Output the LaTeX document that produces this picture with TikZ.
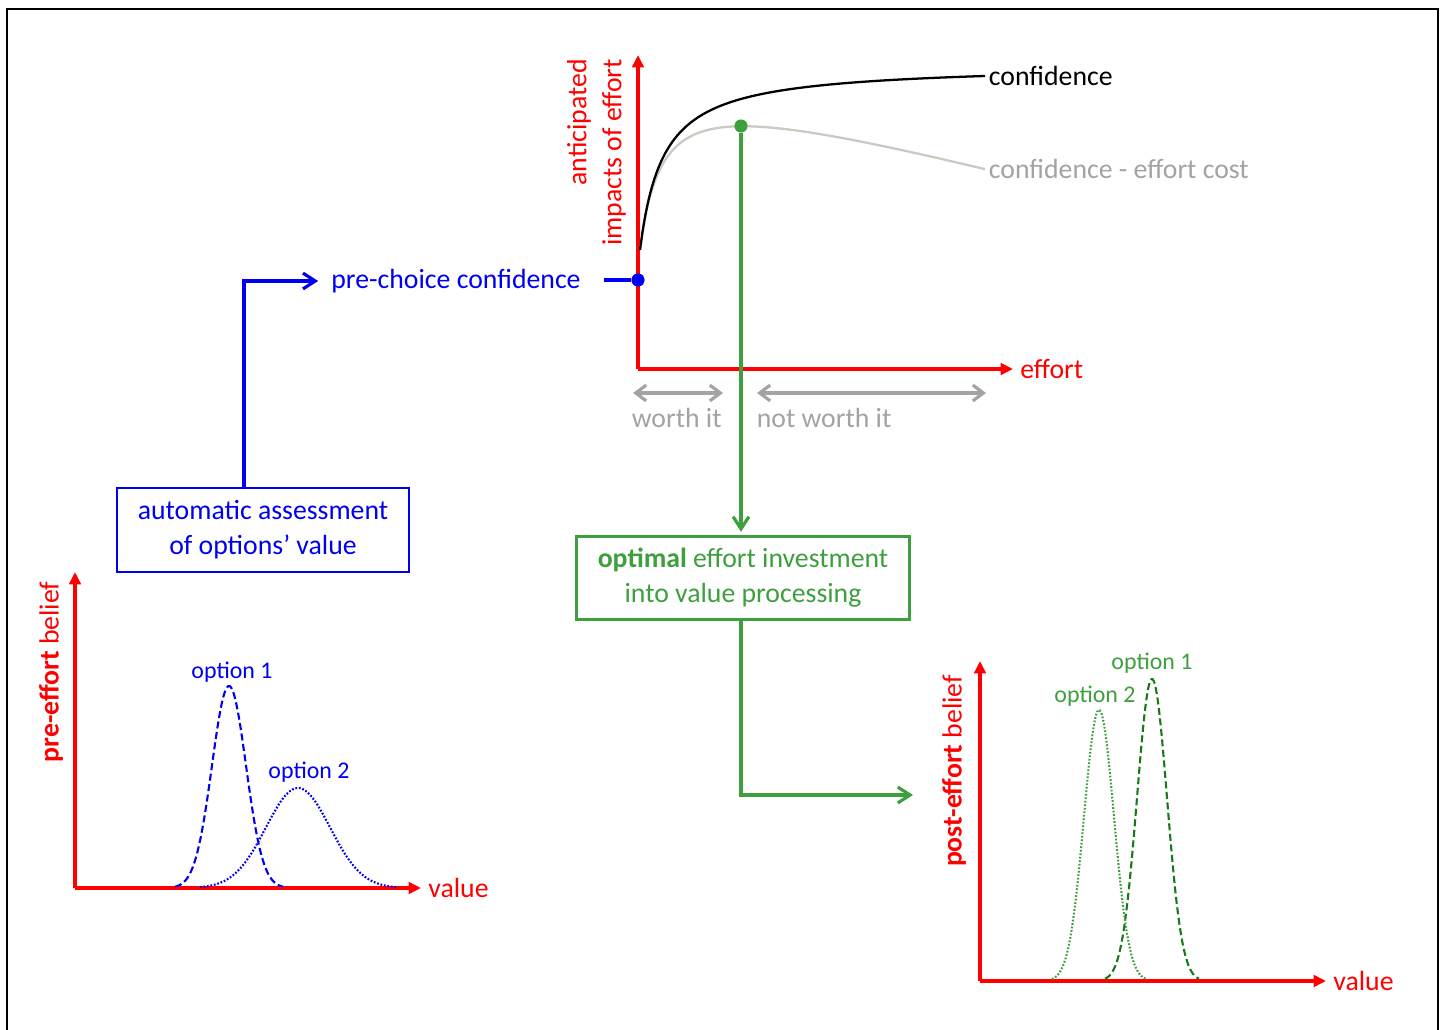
\documentclass[tikz,border=0pt]{standalone}
\usepackage{fontspec}
\setmainfont{Carlito}
\usepackage{xcolor}
\usepackage{tikz}
\usetikzlibrary{positioning,arrows.meta}
\definecolor{mAxisRed}{HTML}{FF0000}
\definecolor{mFlowBlue}{HTML}{0000F0}
\definecolor{mFlowGreen}{HTML}{3D9F3D}
\definecolor{mDeepGreen}{HTML}{167A16}
\definecolor{mHintGray}{HTML}{A3A3A3}
\definecolor{mCostGray}{HTML}{CACAC2}
\newcommand{\mainsize}{\fontsize{15.8}{20}\selectfont}
\newcommand{\optsize}{\fontsize{13.6}{16}\selectfont}
\newcommand{\belief}[8]{%
\draw[#1, #2, line width=1.2pt] plot[domain=#7:#8, samples=80, smooth] (\x,{#6-#4*exp(-0.5*((\x-#3)/#5)^2)});}
\tikzset{
 axis/.style={draw=mAxisRed, line width=2pt, -{Triangle[length=7pt,width=6.5pt]}},
 axislabel/.style={text=mAxisRed, font=\mainsize, inner sep=1pt},
 flowarrow/.style={line width=1.8pt, -{Straight Barb[length=7pt,width=9pt]}},
 hintarrow/.style={draw=mHintGray, line width=1.8pt, {Straight Barb[length=6pt,width=9pt]}-{Straight Barb[length=6pt,width=9pt]}},
 hint/.style={text=mHintGray, font=\mainsize, inner sep=2pt},
 dot/.style={circle, inner sep=0pt, minimum size=7.5pt},
 bluebox/.style={draw=mFlowBlue, line width=1.3pt, text=mFlowBlue, font=\mainsize, align=center, minimum width=5.84cm, minimum height=1.68cm},
 greenbox/.style={draw=mFlowGreen, line width=1.3pt, text=mFlowGreen, font=\mainsize, align=center, minimum width=6.66cm, minimum height=1.66cm},
 optlabel/.style={font=\optsize, inner sep=1pt},
 dashcurve/.style={dash pattern=on 4pt off 2pt},
 dotcurve/.style={dash pattern=on 1pt off 1pt}
}
\begin{document}
\begin{tikzpicture}[x=0.02cm, y=-0.02cm]
\useasboundingbox (0,0) rectangle (1444,1030);
\draw[black, line width=0.9pt] (7,1030) -- (7,9) -- (1438,9) -- (1438,1030);

\coordinate (o1) at (638,369);
\coordinate (y1) at (638,55);
\coordinate (x1) at (1013,369);
\draw[axis] (o1) -- (y1);
\draw[axis] (o1) -- (x1);
\node[axislabel, right=3pt of x1] (effort) {effort};
\node[axislabel, rotate=90, align=right, anchor=south east] (impacts) at (628,57) {anticipated\\impacts of effort};

\draw[mCostGray, line width=1.3pt] plot[domain=640:985, samples=120, smooth] (\x,{64.3+4308/(\x-616.8)+0.27*(\x-640)});
\draw[black, line width=1.3pt] plot[domain=640:985, samples=120, smooth] (\x,{64.3+4308/(\x-616.8)});
\coordinate (confend) at (985,76);
\coordinate (costend) at (985,169);
\node[right=1pt of confend, font=\mainsize, inner sep=1pt] (conf) {confidence};
\node[right=1pt of costend, font=\mainsize, text=mHintGray, inner sep=1pt] (cost) {confidence - effort cost};

\node[dot, fill=mFlowGreen] (peak) at (741,126) {};
\node[dot, fill=mFlowBlue] (prior) at (638,280) {};
\node[font=\mainsize, text=mFlowBlue] (prechoice) at (456,281) {pre-choice confidence};
\coordinate (tick) at (604,280);
\draw[mFlowBlue, line width=1.8pt] (tick) -- (prior);

\node[bluebox] (assess) at (263,530) {automatic assessment\\of options’ value};
\coordinate (bend) at (244,280);
\draw[flowarrow, mFlowBlue, shorten >=4pt] (assess.north -| bend) |- (prechoice.west);

\node[greenbox] (invest) at (743,578) {\textbf{optimal} effort investment\\into value processing};
\draw[flowarrow, mFlowGreen, shorten >=2pt] (peak) -- (invest.north -| peak);
\coordinate (postin) at (913,795);
\draw[flowarrow, mFlowGreen] (invest.south -| peak) |- (postin);

\coordinate (w1) at (633,393);
\coordinate (w2) at (723,393);
\coordinate (n1) at (757,393);
\coordinate (n2) at (986,393);
\draw[hintarrow] (w1) -- (w2);
\draw[hintarrow] (n1) -- (n2);
\node[hint, anchor=west] (worth) at (628,418) {worth it};
\node[hint, anchor=west] (notworth) at (753,418) {not worth it};

\coordinate (o2) at (75,888);
\coordinate (y2) at (75,572);
\coordinate (x2) at (421,888);
\draw[axis] (o2) -- (y2);
\draw[axis] (o2) -- (x2);
\node[axislabel, right=3pt of x2] (value1) {value};
\node[axislabel, rotate=90, anchor=south] (pre) at (65,672) {\textbf{pre-effort} belief};
\belief{mFlowBlue}{dashcurve}{229}{202}{17}{888}{175}{283}
\belief{mFlowBlue}{dotcurve}{298}{100}{32}{888}{200}{398}
\node[optlabel, text=mFlowBlue] (opt1pre) at (232,672) {option 1};
\node[optlabel, text=mFlowBlue] (opt2pre) at (309,772) {option 2};

\coordinate (o3) at (980,981);
\coordinate (y3) at (980,661);
\coordinate (x3) at (1326,981);
\draw[axis] (o3) -- (y3);
\draw[axis] (o3) -- (x3);
\node[axislabel, right=3pt of x3] (value2) {value};
\node[axislabel, rotate=90, anchor=south] (post) at (968,771) {\textbf{post-effort} belief};
\belief{mDeepGreen}{dashcurve}{1152}{302}{15}{981}{1105}{1199}
\belief{mFlowGreen}{dotcurve}{1099}{271}{15}{981}{1052}{1146}
\node[optlabel, text=mFlowGreen] (opt1post) at (1152,663) {option 1};
\node[optlabel, text=mFlowGreen] (opt2post) at (1095,696) {option 2};
\end{tikzpicture}
\end{document}
